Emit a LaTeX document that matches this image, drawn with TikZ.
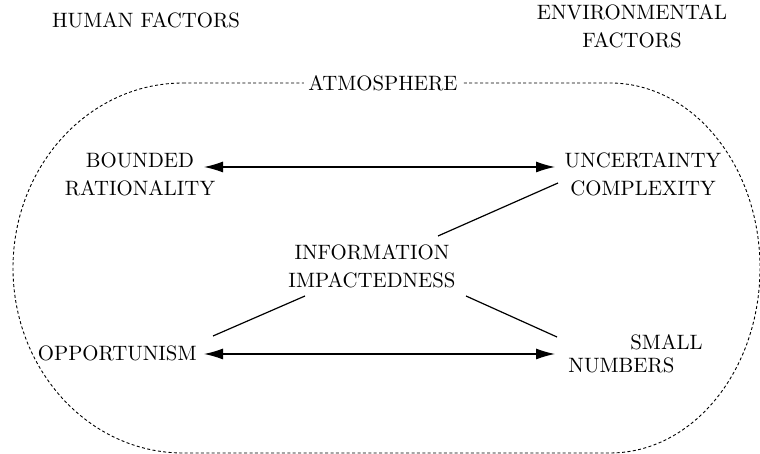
\documentclass[tikz,border=0pt]{standalone}
\usetikzlibrary{arrows.meta}
\begin{document}
\begin{tikzpicture}[x=0.5pt,y=0.5pt,
  lbl/.style={font=\fontsize{10.4}{14}\selectfont,inner sep=0pt,align=center},
  conn/.style={line width=0.6pt},
  biarrow/.style={line width=0.6pt,{Latex[length=9.5pt,width=5.5pt]}-{Latex[length=9.5pt,width=5.5pt]}},
  atmo/.style={line width=0.45pt,dash pattern=on 1.5pt off 1.2pt}]
\useasboundingbox (0,0) rectangle (760,454);
% boundary
\draw[atmo] (183,371) -- (610,371)
  arc[start angle=90,end angle=-90,x radius=150,y radius=185]
  -- (183,1)
  arc[start angle=270,end angle=90,x radius=170,y radius=185] -- cycle;
% headings
\node[lbl] (hf) at (146,434) {HUMAN FACTORS};
\node[lbl] (ef) at (632,427.5) {ENVIRONMENTAL\\FACTORS};
\node[lbl,fill=white,inner xsep=2pt] (atm) at (383,371) {ATMOSPHERE};
% nodes
\node[lbl] (br) at (140,280) {BOUNDED\\RATIONALITY};
\node[lbl] (uc) at (643,280) {UNCERTAINTY\\COMPLEXITY};
\node[lbl] (ii) at (372,188) {INFORMATION\\IMPACTEDNESS};
\node[lbl,anchor=east] (op) at (197,101) {OPPORTUNISM};
\node[lbl,align=left,anchor=west] (sn) at (568,100) {\hspace*{31pt}SMALL\\[-2.5pt]NUMBERS};
% connector ends
\coordinate (a1) at (204,287);
\coordinate (a2) at (555,287);
\coordinate (b1) at (204,100);
\coordinate (b2) at (555,100);
\coordinate (iu) at (438,218);
\coordinate (ui) at (558,271);
\coordinate (io) at (305,158);
\coordinate (oi) at (213,118);
\coordinate (is) at (466,158);
\coordinate (si) at (557,117);
\draw[biarrow] (a1) -- (a2);
\draw[biarrow] (b1) -- (b2);
\draw[conn] (iu) -- (ui);
\draw[conn] (io) -- (oi);
\draw[conn] (is) -- (si);
\end{tikzpicture}
\end{document}
